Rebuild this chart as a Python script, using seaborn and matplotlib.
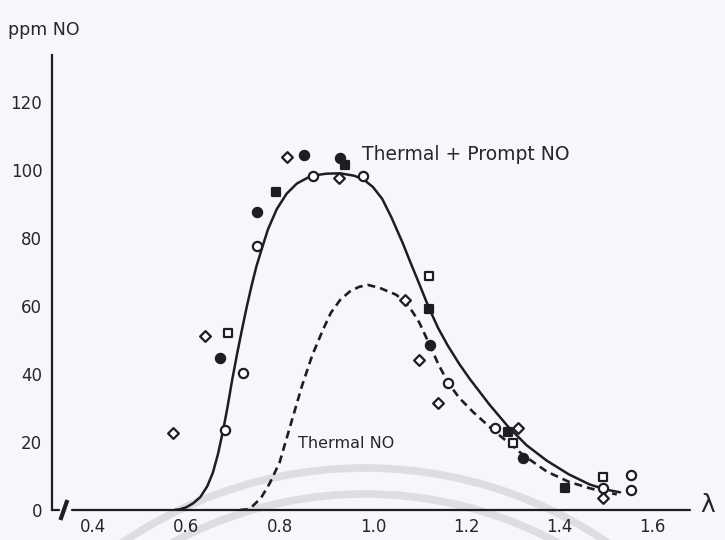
import matplotlib
matplotlib.use("Agg")
import matplotlib.pyplot as plt
from matplotlib.patches import Arc
import seaborn as sns
import pandas as pd

# ---- data ----
solid_x = [0.575, 0.586, 0.600, 0.615, 0.630, 0.645, 0.657, 0.668, 0.679, 0.688,
           0.698, 0.709, 0.720, 0.730, 0.740, 0.750, 0.760, 0.775, 0.794, 0.815,
           0.837, 0.860, 0.880, 0.900, 0.930, 0.960, 0.980, 1.000, 1.020, 1.040,
           1.064, 1.080, 1.095, 1.120, 1.140, 1.160, 1.185, 1.208, 1.250, 1.290,
           1.330, 1.373, 1.420, 1.465, 1.500, 1.530]
solid_y = [0.0, 0.2, 0.8, 2.0, 3.8, 7.0, 11.0, 16.5, 23.5, 30.0,
           38.0, 46.0, 53.5, 60.0, 66.0, 71.5, 76.0, 82.5, 88.5, 93.0,
           96.0, 97.7, 98.5, 98.9, 99.0, 98.3, 97.2, 95.0, 91.5, 86.0,
           78.5, 73.0, 68.0, 59.5, 53.5, 48.5, 43.0, 38.5, 31.0, 24.5,
           19.0, 14.5, 10.5, 7.5, 6.0, 5.2]

dash_x = [0.715, 0.730, 0.741, 0.760, 0.779, 0.800, 0.816, 0.832, 0.848, 0.870,
          0.893, 0.910, 0.930, 0.950, 0.970, 0.989, 1.015, 1.050, 1.069, 1.085,
          1.100, 1.122, 1.140, 1.161, 1.185, 1.215, 1.262, 1.300, 1.322, 1.373,
          1.420, 1.465, 1.500, 1.523]
dash_y = [0.0, 0.2, 1.0, 3.5, 7.9, 14.0, 21.5, 29.0, 36.5, 45.5,
          53.0, 58.0, 61.8, 64.2, 65.6, 66.2, 65.3, 63.3, 61.2, 58.3,
          55.0, 48.5, 43.0, 37.5, 33.0, 28.8, 23.0, 18.8, 16.2, 11.3,
          8.3, 6.4, 5.2, 4.6]

open_circle_x = [0.683, 0.722, 0.752, 0.872, 0.979, 1.161, 1.262, 1.493, 1.553, 1.553]
open_circle_y = [23.5, 40.3, 77.6, 98.2, 98.2, 37.3, 24.0, 6.5, 10.3, 5.9]

filled_circle_x = [0.672, 0.752, 0.852, 0.930, 1.122, 1.322]
filled_circle_y = [44.7, 87.6, 104.4, 103.5, 48.5, 15.3]

open_diamond_x = [0.571, 0.640, 0.816, 0.927, 1.069, 1.099, 1.140, 1.311, 1.493]
open_diamond_y = [22.6, 51.2, 103.8, 97.5, 61.8, 44.0, 31.5, 24.0, 3.5]

open_square_x = [0.689, 1.120, 1.300, 1.493]
open_square_y = [52.0, 68.8, 19.7, 9.7]

filled_square_x = [0.792, 0.940, 1.120, 1.290, 1.412]
filled_square_y = [93.5, 101.5, 59.0, 23.0, 6.5]

x_ticks = [0.4, 0.6, 0.8, 1.0, 1.2, 1.4, 1.6]
x_tick_labels = ["0.4", "0.6", "0.8", "1.0", "1.2", "1.4", "1.6"]
y_ticks = [0, 20, 40, 60, 80, 100, 120]
y_tick_labels = ["0", "20", "40", "60", "80", "100", "120"]

label_total = "Thermal + Prompt NO"
label_thermal = "Thermal NO"
y_title = "ppm NO"
x_title = "λ"

# ---- drawing ----
sns.set_style("white")
plt.rcParams["font.family"] = ["DejaVu Sans"]
INK = "#1e1e22"
TXT = "#26262b"
BG = "#f7f7fb"

fig = plt.figure(figsize=(7.25, 5.4), dpi=100, facecolor=BG)

# faint watermark arcs (background decoration)
wm = fig.add_axes([0, 0, 1, 1], zorder=0)
wm.set_xlim(0, 725)
wm.set_ylim(540, 0)
wm.axis("off")
wm.add_patch(Arc((365, 900), 2 * 432, 2 * 432, theta1=180, theta2=360,
                 color="#dedee2", lw=5.5))
wm.add_patch(Arc((365, 900), 2 * 406, 2 * 406, theta1=180, theta2=360,
                 color="#dedee2", lw=5.5))

ax = fig.add_axes([52 / 725, 30 / 540, (690 - 52) / 725, (510 - 55) / 540], zorder=2)
ax.patch.set_alpha(0)

df_solid = pd.DataFrame({"x": solid_x, "y": solid_y})
df_dash = pd.DataFrame({"x": dash_x, "y": dash_y})
sns.lineplot(data=df_solid, x="x", y="y", ax=ax, color=INK, lw=1.8, sort=False,
             estimator=None, zorder=3)
sns.lineplot(data=df_dash, x="x", y="y", ax=ax, color=INK, lw=1.9, sort=False,
             estimator=None, zorder=3, linestyle=(0, (3.0, 1.9)))

def pts(xs, ys, marker, filled, size):
    d = pd.DataFrame({"x": xs, "y": ys})
    sns.scatterplot(data=d, x="x", y="y", ax=ax, marker=marker, s=size,
                    facecolor=INK if filled else "white", edgecolor=INK,
                    linewidth=1.6, zorder=5)

pts(open_circle_x, open_circle_y, "o", False, 44)
pts(filled_circle_x, filled_circle_y, "o", True, 44)
pts(open_diamond_x, open_diamond_y, "D", False, 30)
pts(open_square_x, open_square_y, "s", False, 40)
pts(filled_square_x, filled_square_y, "s", True, 40)

ax.set_xlim(0.312, 1.68)
ax.set_ylim(0, 133.8)
ax.set_xticks(x_ticks)
ax.set_xticklabels(x_tick_labels)
ax.set_yticks(y_ticks)
ax.set_yticklabels(y_tick_labels)
ax.set_xlabel("")
ax.set_ylabel("")
ax.tick_params(axis="both", direction="in", length=6, width=1.3, colors=INK,
               labelsize=12, labelcolor=TXT)
ax.tick_params(axis="x", pad=6)
ax.tick_params(axis="y", pad=7)

for s in ["top", "right", "bottom"]:
    ax.spines[s].set_visible(False)
ax.spines["left"].set_color(INK)
ax.spines["left"].set_linewidth(1.6)

# bottom axis drawn in two pieces with a break mark
tr = ax.get_xaxis_transform()
ax.plot([0.312, 0.328], [0, 0], color=INK, lw=1.6, transform=tr, clip_on=False, zorder=4)
ax.plot([0.355, 1.68], [0, 0], color=INK, lw=1.6, transform=tr, clip_on=False, zorder=4)
ax.plot([0.330, 0.345], [-0.022, 0.022], color=INK, lw=3.0, transform=tr,
        clip_on=False, zorder=4, solid_capstyle="butt")

ax.text(0.977, 104.4, label_total, fontsize=13.5, color=TXT,
        ha="left", va="center")
ax.text(0.839, 19.7, label_thermal, fontsize=11.5, color=TXT,
        ha="left", va="center")

fig.text(8 / 725, 1 - 30 / 540, y_title, fontsize=12.5, color=TXT,
         ha="left", va="center")
fig.text(700 / 725, 1 - 505 / 540, x_title, fontsize=18, color=TXT,
         ha="left", va="center")

fig.savefig("out.png", dpi=100, facecolor=BG)
